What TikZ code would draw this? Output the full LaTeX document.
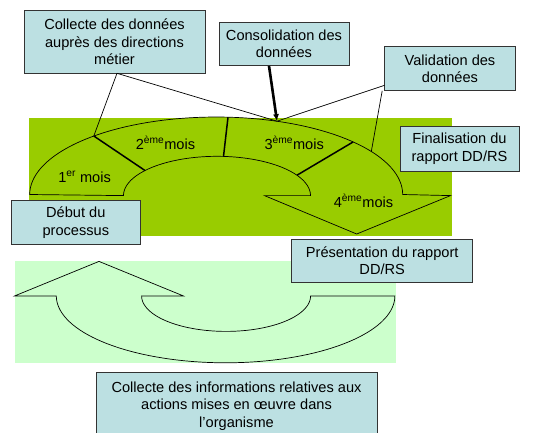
\documentclass[tikz,border=0pt]{standalone}
\usepackage{fontspec}
\setmainfont{Liberation Sans}
\usetikzlibrary{arrows.meta}
\definecolor{darkgreen}{HTML}{99CC00}
\definecolor{lightgreen}{HTML}{CCFFCC}
\definecolor{boxcol}{HTML}{BCE0E2}
\tikzset{
  infobox/.style={draw=black!80, line width=0.9pt, fill=boxcol, align=center,
    font=\fontsize{14.6}{17.5}\selectfont, inner sep=0pt},
  outline/.style={draw=black, line width=0.7pt},
  divider/.style={draw=black, line width=1.5pt},
  conn/.style={draw=black, line width=0.7pt},
  lbl/.style={font=\fontsize{14.6}{17.5}\selectfont, inner sep=0pt}
}
\begin{document}
\begin{tikzpicture}[x=1pt,y=-1pt]
\useasboundingbox (0,0) rectangle (536,432);
% backgrounds
\fill[darkgreen] (29,117.7) rectangle (451.5,235.8);
\fill[lightgreen] (14.7,260.7) rectangle (395.5,363);
% upper arch with arrow head
\path[outline, fill=darkgreen] (29.7,194.5)
  -- plot[domain=180:360, samples=72] ({216.2+186.5*cos(\x)},{194.5+77.5*sin(\x)})
  -- (450.5,195.6) -- (356.7,234) -- (264.5,195.6) -- (310.5,195.6)
  -- plot[domain=360:180, samples=72] ({217+93.5*cos(\x)},{195.6+39.3*sin(\x)})
  -- cycle;
% dividers
\coordinate (o1) at (93.8,136.0);
\coordinate (i1) at (145,170.5);
\coordinate (o2) at (228,117.3);
\coordinate (i2) at (223.5,156.4);
\coordinate (o3) at (353.2,141.9);
\coordinate (i3) at (297,175.2);
\coordinate (top) at (277,121.2);
\coordinate (oR) at (371.3,151.5);
\draw[divider] (o1) -- (i1);
\draw[divider] (o2) -- (i2);
\draw[divider] (o3) -- (i3);
% lower U arrow
\path[outline, fill=lightgreen] (56.3,295.9)
  -- plot[domain=180:0, samples=72] ({225.6+169.3*cos(\x)},{295.9+66.9*sin(\x)})
  -- (310.6,295.9)
  -- plot[domain=0:180, samples=72] ({226.1+84.5*cos(\x)},{295.9+35.5*sin(\x)})
  -- (183.3,295.9) -- (99,261.4) -- (14.7,295.9) -- cycle;
% month labels
\node[lbl] (m1) at (84.6,176.8) {1\textsuperscript{er} mois};
\node[lbl] (m2) at (165.5,142.7) {2\textsuperscript{ème}mois};
\node[lbl] (m3) at (294.2,142.7) {3\textsuperscript{ème}mois};
\node[lbl] (m4) at (363.5,200.7) {4\textsuperscript{ème}mois};
% boxes
\node[infobox, minimum width=181pt, minimum height=63.3pt] (b1) at (114.5,41.7)
  {Collecte des données\\auprès des directions\\métier};
\node[infobox, minimum width=130pt, minimum height=43.7pt] (b2) at (284,44)
  {Consolidation des\\données};
\node[infobox, minimum width=130.8pt, minimum height=44pt] (b3) at (450,68.8)
  {Validation des\\données};
\node[infobox, minimum width=119pt, minimum height=44.7pt] (b4) at (459.5,148.6)
  {Finalisation du\\rapport DD/RS};
\node[infobox, minimum width=129pt, minimum height=44.4pt] (b5) at (75.8,222.5)
  {Début du\\processus};
\node[infobox, minimum width=181pt, minimum height=43pt] (b6) at (382.2,260.5)
  {Présentation du rapport\\DD/RS};
\node[infobox, minimum width=281pt, minimum height=68pt] (b7) at (236.5,406)
  {Collecte des informations relatives aux\\actions mises en œuvre dans\\l’organisme};
% connectors
\coordinate (b1s) at (117,73.3);
\coordinate (b3a) at (384.6,85.3);
\coordinate (b3b) at (382.2,90.8);
\coordinate (b2s) at (269,65.9);
\draw[conn] (b1s) -- (o1);
\draw[conn] (b1s) -- (top);
\draw[conn] (b3a) -- (top);
\draw[conn] (b3b) -- (oR);
\draw[line width=2.6pt, -{Latex[length=7pt,width=6pt]}] (b2s) -- (top);
\end{tikzpicture}
\end{document}
